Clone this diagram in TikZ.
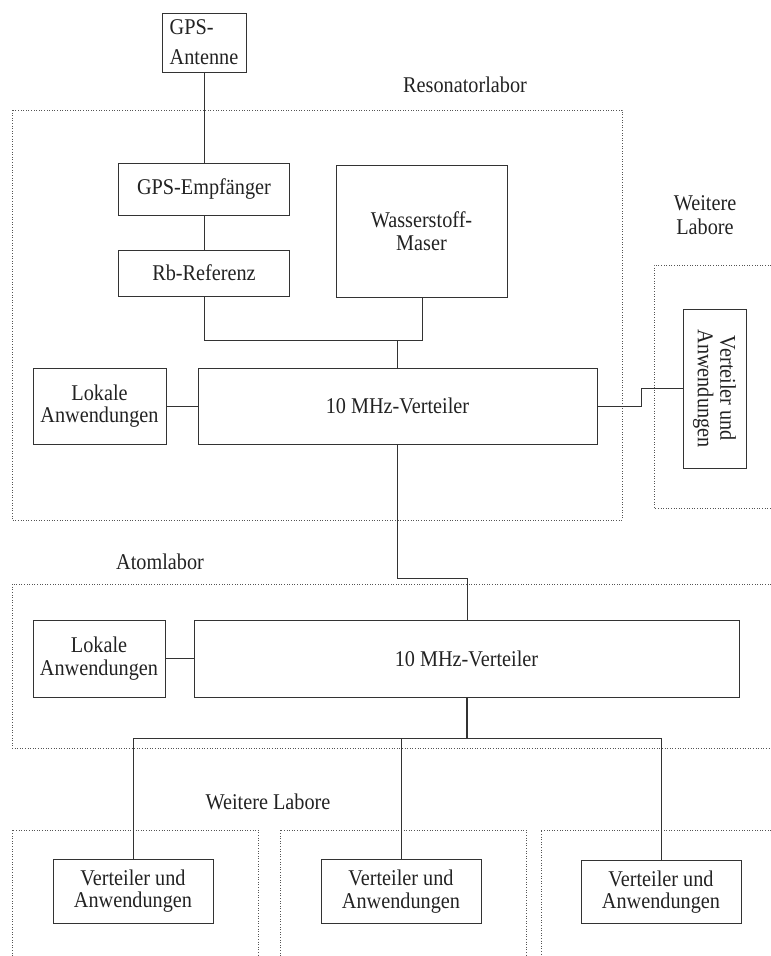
\documentclass[tikz,border=0pt]{standalone}
\usepackage{fontspec}
\setmainfont{Liberation Serif}[FakeStretch=0.9]
\definecolor{ink}{HTML}{222222}
\definecolor{edge}{HTML}{333333}
\definecolor{dotc}{HTML}{555555}
\begin{document}
\begin{tikzpicture}[x=1pt,y=-1pt,
  every node/.style={font=\fontsize{22.5}{22.5}\selectfont, text=ink, inner sep=0pt},
  box/.style={draw=edge, line width=0.9pt, align=center},
  conn/.style={draw=edge, line width=0.9pt},
  trunk/.style={draw=edge, line width=1.6pt},
  area/.style={draw=dotc, line width=0.8pt, dash pattern=on 0.8pt off 1.8pt},
  lbl/.style={align=center}]
\useasboundingbox (0,0) rectangle (771,956);

% dotted areas
\draw[area] (12,110) rectangle (622,520);
\draw[area] (771,265) -- (654,265) -- (654,508) -- (771,508);
\draw[area] (771,584) -- (12,584) -- (12,748) -- (771,748);
\draw[area] (12,956) -- (12,830) -- (258,830) -- (258,956);
\draw[area] (280,956) -- (280,830) -- (526,830) -- (526,956);
\draw[area] (771,830) -- (541,830) -- (541,956);

% labels
\node[lbl, font=\fontsize{22.5}{23.5}\selectfont] (lres) at (465,85) {Resonatorlabor};
\node[lbl, font=\fontsize{22.5}{23.5}\selectfont] (lwei1) at (705,215) {Weitere\\Labore};
\node[lbl] (latom) at (160,562) {Atomlabor};
\node[lbl] (lwei2) at (268,802) {Weitere Labore};

% boxes
\node[box, minimum width=84, minimum height=59, align=left,
      font=\fontsize{22.5}{30}\selectfont] (ant) at (204,42.5) {GPS-\\Antenne};
\node[box, minimum width=171, minimum height=52] (gpse) at (204,189) {GPS-Empfänger};
\node[box, minimum width=171, minimum height=46] (rb) at (204,273) {Rb-Referenz};
\node[box, minimum width=171, minimum height=132] (maser) at (421.5,231) {Wasserstoff-\\Maser};
\node[box, minimum width=133, minimum height=76] (lok1) at (99.5,406) {Lokale\\Anwendungen};
\node[box, minimum width=399, minimum height=76] (vt1) at (397.5,406) {10 MHz-Verteiler};
\node[box, rotate=-90, minimum width=159, minimum height=63] (vua) at (714.5,388.5) {Verteiler und\\Anwendungen};
\node[box, minimum width=132, minimum height=77] (lok2) at (99,658.5) {Lokale\\Anwendungen};
\node[box, minimum width=545, minimum height=77] (vt2) at (466.5,658.5) {10 MHz-Verteiler};
\node[box, minimum width=160, minimum height=64] (b1) at (133,891) {Verteiler und\\Anwendungen};
\node[box, minimum width=160, minimum height=64] (b2) at (401,891.5) {Verteiler und\\Anwendungen};
\node[box, minimum width=160, minimum height=63] (b3) at (661,892) {Verteiler und\\Anwendungen};

% helper coordinates
\coordinate (mj) at (422,340);
\coordinate (j1) at (397,340);
\coordinate (s1) at (467,578);
\coordinate (r1) at (641,0);
\coordinate (hb) at (467,738);

% connectors
\draw[conn] (ant.south) -- (ant.south |- gpse.north);
\draw[conn] (gpse.south) -- (rb.north);
\draw[conn] (rb.south) |- (mj) -- (maser.south -| mj);
\draw[conn] (j1) -- (j1 |- vt1.north);
\draw[conn] (lok1.east) -- (lok1.east -| vt1.west);
\draw[conn] (vt1.east) -- (vt1.east -| r1) -- (r1 |- vua.south) -- (vua.south);
\draw[conn] (vt1.south -| j1) |- (s1) -- (s1 |- vt2.north);
\draw[conn] (lok2.east) -- (lok2.east -| vt2.west);
\draw[trunk] (vt2.south -| hb) -- (hb);
\draw[conn] (b1.north |- hb) -- (b3.north |- hb);
\draw[conn] (b1.north |- hb) -- (b1.north);
\draw[conn] (b2.north |- hb) -- (b2.north);
\draw[conn] (b3.north |- hb) -- (b3.north);
\end{tikzpicture}
\end{document}
